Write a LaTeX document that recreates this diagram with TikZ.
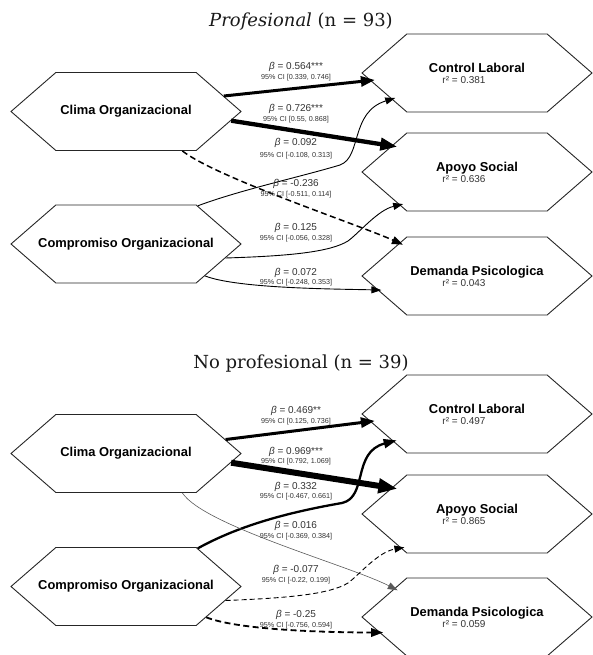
\documentclass[tikz,border=0pt]{standalone}
\usepackage{fontspec}
\setmainfont{Liberation Sans}
\newfontfamily\titlefont{DejaVu Serif}
\usetikzlibrary{shapes.symbols,arrows.meta}
\newcommand{\rsqtxt}[1]{\makebox[100pt]{\hspace*{-26pt}{\mdseries\fontsize{10}{11}\selectfont\color{black!80}#1}}}
\newcommand{\hxtxt}[1]{\makebox[100pt]{#1}}
\newcommand{\betatxt}[1]{\textit{β} = #1}
\begin{document}
\begin{tikzpicture}[x=1pt,y=-1pt,
  hexl/.style={signal, signal to=west and east, signal pointer angle=82,
    draw=black!85, line width=0.9pt, minimum width=230pt, minimum height=78pt,
    inner sep=0pt, align=center, font=\fontsize{12.9}{13}\selectfont\bfseries},
  blab/.style={font=\fontsize{10}{11}\selectfont, text=black!80, inner sep=0pt},
  cilab/.style={font=\fontsize{7.2}{8}\selectfont, text=black!80, inner sep=0pt},
  ttl/.style={font=\titlefont\fontsize{18}{20}\selectfont, inner sep=0pt, anchor=base, text=black!90},
  thinarr/.style={line width=0.9pt, -{Triangle[length=10pt,width=7pt]}, shorten >=-4pt},
  dasharr/.style={line width=1.5pt, dash pattern=on 6pt off 3.5pt, -{Triangle[length=11pt,width=8pt]}, shorten >=-4pt},
  thinnerarr/.style={line width=0.6pt, draw=black!65, -{Triangle[length=10pt,width=7pt]}, shorten >=-4pt},
  thindash/.style={line width=0.9pt, dash pattern=on 5pt off 3pt, -{Triangle[length=10pt,width=7pt]}, shorten >=-4pt},
  medarr/.style={line width=2.3pt, -{Triangle[length=13pt,width=9pt]}, shorten >=-4pt},
  meddash/.style={line width=1.8pt, dash pattern=on 6pt off 3.5pt, -{Triangle[length=12pt,width=8.5pt]}, shorten >=-4pt},
  thickarr/.style={line width=3pt, -{Triangle[length=14pt,width=10pt]}, shorten >=-5pt},
  thickerarr/.style={line width=4.3pt, -{Triangle[length=17pt,width=12pt]}, shorten >=-6pt},
  thickestarr/.style={line width=6pt, -{Triangle[length=19pt,width=14pt]}, shorten >=-6pt}
]
\useasboundingbox (0,0) rectangle (592,655);

% ---------- top panel ----------
\node[ttl] (t1) at (301,26.7) {\textit{Profesional} (n = 93)};
\node[hexl] (clima) at (126,111.5) {\hxtxt{Clima Organizacional}};
\node[hexl] (comp) at (126,244) {\hxtxt{Compromiso Organizacional}};
\node[hexl] (ctrl) at (477,73) {\hxtxt{Control Laboral}\\[-2pt]\rsqtxt{r² = 0.381}};
\node[hexl] (apoyo) at (477,172) {\hxtxt{Apoyo Social}\\[-2pt]\rsqtxt{r² = 0.636}};
\node[hexl] (dem) at (477,276) {\hxtxt{Demanda Psicologica}\\[-2pt]\rsqtxt{r² = 0.043}};

\draw[thickarr] (clima.9) -- (ctrl.184);
\draw[thickerarr] (clima.-5) -- (apoyo.163);
\draw[thinarr] (comp.28) .. controls (240,190) and (300,177) .. (340,165)
  .. controls (362,157) and (350,112) .. (ctrl.197);
\draw[dasharr] (clima.-35) .. controls +(35,27) and +(-40,-18) .. (dem.157);
\draw[thinarr] (comp.-8.5) .. controls (290,256) and (330,252) .. (348,241)
  .. controls (360,232) and (378,210) .. (apoyo.203);
\draw[thinarr] (comp.-22.7) .. controls +(33,13) and +(-36,-1) .. (dem.188.4);

\node[blab] (b1) at (296,67) {\betatxt{0.564***}};
\node[cilab] (c1) at (296,78) {95\% CI [0.339, 0.746]};
\node[blab] (b2) at (296,109) {\betatxt{0.726***}};
\node[cilab] (c2) at (296,120) {95\% CI [0.55, 0.868]};
\node[blab] (b3) at (296,143) {\betatxt{0.092}};
\node[cilab] (c3) at (296,156) {95\% CI [-0.108, 0.313]};
\node[blab] (b4) at (296,184) {\betatxt{-0.236}};
\node[cilab] (c4) at (296,195) {95\% CI [-0.511, 0.114]};
\node[blab] (b5) at (296,228) {\betatxt{0.125}};
\node[cilab] (c5) at (296,239) {95\% CI [-0.056, 0.328]};
\node[blab] (b6) at (296,273) {\betatxt{0.072}};
\node[cilab] (c6) at (296,283) {95\% CI [-0.248, 0.353]};

% ---------- bottom panel ----------
\node[ttl] (t2) at (301,368.5) {No profesional (n = 39)};
\node[hexl] (climab) at (126,453.5) {\hxtxt{Clima Organizacional}};
\node[hexl] (compb) at (126,586.5) {\hxtxt{Compromiso Organizacional}};
\node[hexl] (ctrlb) at (477,414) {\hxtxt{Control Laboral}\\[-2pt]\rsqtxt{r² = 0.497}};
\node[hexl] (apoyob) at (477,514) {\hxtxt{Apoyo Social}\\[-2pt]\rsqtxt{r² = 0.865}};
\node[hexl] (demb) at (477,617) {\hxtxt{Demanda Psicologica}\\[-2pt]\rsqtxt{r² = 0.059}};

\draw[thickarr] (climab.8.5) -- (ctrlb.184.5);
\draw[thickestarr] (climab.-5) -- (apoyob.163);
\draw[medarr] (compb.28) .. controls (240,525) and (290,512) .. (342,503)
  .. controls (368,497) and (352,452) .. (ctrlb.198);
\draw[thinnerarr] (climab.-35) .. controls +(22,33) and +(-45,-23) .. (demb.161);
\draw[thindash] (compb.-8) .. controls (290,598) and (330,594) .. (348,583)
  .. controls (360,574) and (378,552) .. (apoyob.204);
\draw[meddash] (compb.-21.6) .. controls +(35,14) and +(-35,0) .. (demb.189);

\node[blab] (b7) at (296,411) {\betatxt{0.469**}};
\node[cilab] (c7) at (296,422) {95\% CI [0.125, 0.736]};
\node[blab] (b8) at (296,452) {\betatxt{0.969***}};
\node[cilab] (c8) at (296,462) {95\% CI [0.792, 1.069]};
\node[blab] (b9) at (296,487) {\betatxt{0.332}};
\node[cilab] (c9) at (296,497) {95\% CI [-0.467, 0.661]};
\node[blab] (b10) at (296,526) {\betatxt{0.016}};
\node[cilab] (c10) at (296,537) {95\% CI [-0.369, 0.384]};
\node[blab] (b11) at (296,570) {\betatxt{-0.077}};
\node[cilab] (c11) at (296,581) {95\% CI [-0.22, 0.199]};
\node[blab] (b12) at (296,615) {\betatxt{-0.25}};
\node[cilab] (c12) at (296,626) {95\% CI [-0.756, 0.594]};
\end{tikzpicture}
\end{document}
